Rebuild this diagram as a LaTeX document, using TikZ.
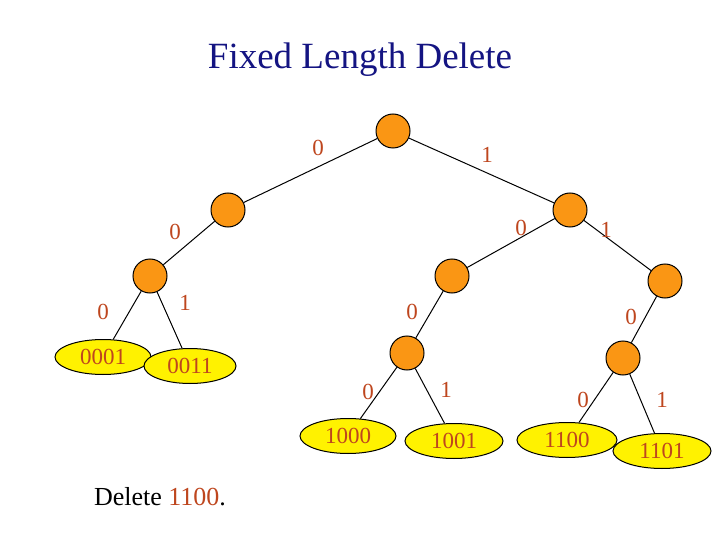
\documentclass[tikz,border=0pt]{standalone}
\usepackage{fontspec}
\setmainfont{Liberation Serif}
\usetikzlibrary{shapes.geometric}
\definecolor{orng}{RGB}{250,150,20}
\definecolor{lbl}{RGB}{190,70,30}
\definecolor{ttl}{RGB}{20,20,130}
\begin{document}
\begin{tikzpicture}[x=1pt,y=-1pt,
 inode/.style={circle,draw=black,fill=orng,line width=1pt,minimum size=34pt,inner sep=0pt},
 leaf/.style={ellipse,draw=black,fill=yellow,line width=1pt,minimum width=96pt,minimum height=35pt,inner sep=0pt,text=lbl,font=\fontsize{23}{23}\selectfont},
 lab/.style={text=lbl,font=\fontsize{23}{23}\selectfont},
 edge/.style={line width=1pt}]
\useasboundingbox (0,0) rectangle (720,540);
\node[text=ttl,font=\fontsize{37}{37}\selectfont] (title) at (360,60) {Fixed Length Delete};
\node[inode] (r) at (393,131) {};
\node[inode] (a) at (228,210) {};
\node[inode] (b) at (570,210) {};
\node[inode] (c) at (150,276) {};
\node[inode] (d) at (452,276) {};
\node[inode] (e) at (665,281) {};
\node[inode] (f) at (407,353) {};
\node[inode] (g) at (623,358) {};
\node[leaf] (l1) at (103,357) {0001};
\node[leaf,minimum width=92pt] (l2) at (190,366) {0011};
\node[leaf] (l3) at (348,436) {1000};
\node[leaf,minimum width=98pt] (l4) at (454,441) {1001};
\node[leaf,minimum width=100pt] (l5) at (567,440) {1100};
\node[leaf,minimum width=98pt] (l6) at (662,451) {1101};
\draw[edge] (r)--(a); \draw[edge] (r)--(b);
\draw[edge] (a)--(c); \draw[edge] (b)--(d); \draw[edge] (b)--(e);
\draw[edge] (c)--(l1); \draw[edge] (c)--(l2);
\draw[edge] (d)--(f); \draw[edge] (e)--(g);
\draw[edge] (f)--(l3); \draw[edge] (f)--(l4);
\draw[edge] (g)--(l5); \draw[edge] (g)--(l6);
\node[lab] (t1) at (318,148) {0};
\node[lab] (t2) at (487,155) {1};
\node[lab] (t3) at (175,232) {0};
\node[lab] (t4) at (521,228) {0};
\node[lab] (t5) at (606,230) {1};
\node[lab] (t6) at (103,312) {0};
\node[lab] (t7) at (185,303) {1};
\node[lab] (t8) at (412,312) {0};
\node[lab] (t9) at (631,317) {0};
\node[lab] (t10) at (368,392) {0};
\node[lab] (t11) at (446,390) {1};
\node[lab] (t12) at (583,400) {0};
\node[lab] (t13) at (662,400) {1};
\node[font=\fontsize{26}{26}\selectfont] (del) at (160,497) {Delete \textcolor{lbl}{1100}.};
\end{tikzpicture}
\end{document}
